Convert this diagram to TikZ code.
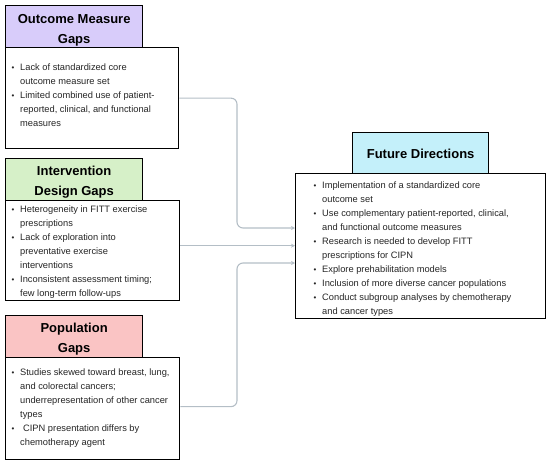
\documentclass[tikz,border=0pt]{standalone}
\usepackage{fontspec}
\usepackage{graphicx}
\setmainfont{Liberation Sans}
\usetikzlibrary{arrows.meta}
\definecolor{lav}{RGB}{216,204,250}
\definecolor{grn}{RGB}{214,240,200}
\definecolor{pnk}{RGB}{250,196,196}
\definecolor{cyn}{RGB}{196,240,250}
\definecolor{conncol}{RGB}{180,190,198}
\newcommand\bul{\makebox[8.5pt][l]{\raisebox{0.3pt}{\scalebox{0.85}{•}}}}
\newcommand\ind{\hspace*{8.5pt}}
\tikzset{
  titlebox/.style={draw, line width=1.3pt, anchor=north west, inner sep=0pt, align=center,
    font=\fontsize{13}{20}\selectfont\bfseries},
  bodybox/.style={draw, line width=1.3pt, fill=white, anchor=north west, inner sep=0pt},
  bodytext/.style={anchor=north west, align=left, inner sep=0pt,
    font=\fontsize{9.3}{14}\selectfont, text=black!85},
  conn/.style={draw=conncol, line width=1.1pt, rounded corners=6pt,
    -{Stealth[length=4pt,width=4pt]}}
}
\begin{document}
\begin{tikzpicture}[x=1pt,y=-1pt]
\useasboundingbox (0,0) rectangle (550,463);
% Outcome
\node[titlebox, fill=lav, minimum width=137pt, minimum height=50pt] (ot) at (5,5) {Outcome Measure\\Gaps};
\node[bodybox, minimum width=173pt, minimum height=101pt] (ob) at (5,47) {};
\node[bodytext] (obt) at (11.5,64) {\bul Lack of standardized core\\\ind outcome measure set\\\bul Limited combined use of patient-\\\ind reported, clinical, and functional\\\ind measures};
% Intervention
\node[titlebox, fill=grn, minimum width=137pt, minimum height=47pt] (it) at (5,158) {Intervention\\Design Gaps};
\node[bodybox, minimum width=174pt, minimum height=100pt] (ib) at (5,200) {};
\node[bodytext] (ibt) at (11.5,206) {\bul Heterogeneity in FITT exercise\\\ind prescriptions\\\bul Lack of exploration into\\\ind preventative exercise\\\ind interventions\\\bul Inconsistent assessment timing;\\\ind few long-term follow-ups};
% Population
\node[titlebox, fill=pnk, minimum width=137pt, minimum height=46pt] (pt) at (5,315) {Population\\Gaps};
\node[bodybox, minimum width=174pt, minimum height=102pt] (pb) at (5,357) {};
\node[bodytext] (pbt) at (11.5,369) {\bul Studies skewed toward breast, lung,\\\ind and colorectal cancers;\\\ind underrepresentation of other cancer\\\ind types\\\bul\hspace{3pt}CIPN presentation differs by\\\ind chemotherapy agent};
% Future
\node[titlebox, fill=cyn, minimum width=136pt, minimum height=42pt] (ft) at (352,132) {Future Directions};
\node[bodybox, minimum width=250pt, minimum height=145pt] (fb) at (295,173) {};
\node[bodytext] (fbt) at (313.5,182) {\bul Implementation of a standardized core\\\ind outcome set\\\bul Use complementary patient-reported, clinical,\\\ind and functional outcome measures\\\bul Research is needed to develop FITT\\\ind prescriptions for CIPN\\\bul Explore prehabilitation models\\\bul Inclusion of more diverse cancer populations\\\bul Conduct subgroup analyses by chemotherapy\\\ind and cancer types};
% connectors
\coordinate (j1) at (237,228);
\coordinate (j3) at (237,263);
\draw[conn] (ob.east) -| (j1) -- (j1 -| fb.west);
\draw[conn] ([yshift=5pt]ib.east) -- ([yshift=5pt]ib.east -| fb.west);
\draw[conn] ([yshift=2pt]pb.east) -| (j3) -- (j3 -| fb.west);
\end{tikzpicture}
\end{document}
